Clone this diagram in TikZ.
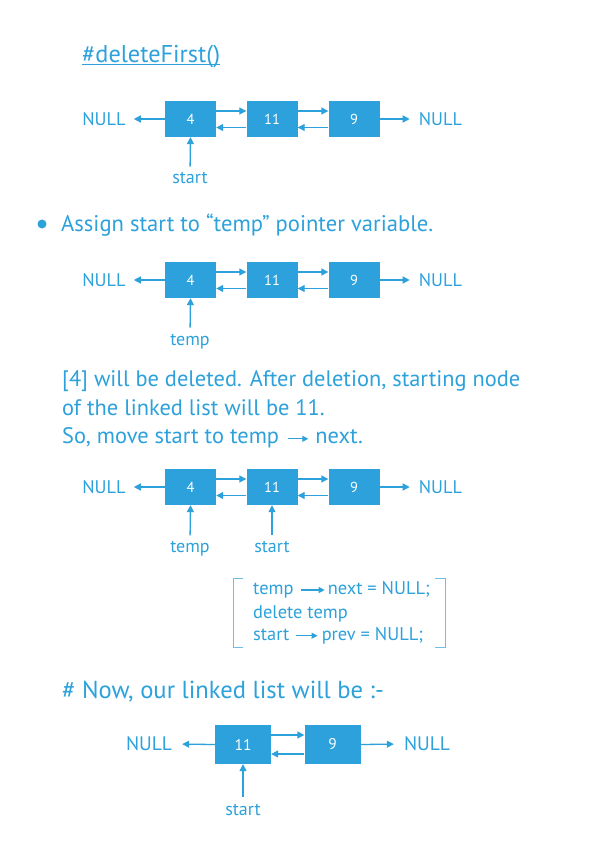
\documentclass[tikz,border=0pt]{standalone}
\usepackage{fontspec}
\setmainfont{PT Sans}
\usetikzlibrary{arrows.meta,positioning}
\definecolor{blu}{RGB}{44,161,219}
\definecolor{blul}{RGB}{110,190,232}
\begin{document}
\begin{tikzpicture}[x=1pt,y=-1pt,
  box/.style={fill=blu,minimum width=51pt,minimum height=36pt,inner sep=0,text=white,font=\fontsize{14.5}{14.5}\selectfont},
  bigbox/.style={box,minimum width=56pt,minimum height=39pt,font=\fontsize{15.5}{15.5}\selectfont},
  nul/.style={text=blu,inner sep=0,font=\fontsize{18.3}{18.3}\selectfont},
  bignul/.style={nul,font=\fontsize{19.5}{19.5}\selectfont},
  lbl/.style={text=blu,inner sep=0,anchor=base,font=\fontsize{18}{18}\selectfont},
  arr/.style={draw=blu,line width=1.3pt,-{Triangle[length=7pt,width=7pt]}},
  sarr/.style={draw=blu,line width=1.2pt,-{Triangle[length=6pt,width=6pt]}},
  txt/.style={text=blu,inner sep=0,anchor=base west,font=\fontsize{22.6}{22.6}\selectfont},
  code/.style={text=blu,inner sep=0,anchor=base west,font=\fontsize{18.4}{18.4}\selectfont},
  brk/.style={draw=blul,line width=1pt}]
\fill[white] (0,0) rectangle (595,850);
\useasboundingbox (0,0) rectangle (595,850);

% title
\node[txt,font=\fontsize{24.3}{24.3}\selectfont] (title) at (82,62.5) {\#deleteFirst()};
\draw[blu,line width=1pt] ([yshift=-2pt]title.base west) -- ([yshift=-2pt]title.base east);

% diagram 1
\node[box] (a4) at (190.5,119) {4};
\node[box] (a11) at (272,119) {11};
\node[box] (a9) at (354,119) {9};
\node[nul] (an1) at (104,119) {NULL};
\node[nul] (an2) at (440.5,119) {NULL};
\draw[arr,shorten >=8pt] (a4.west) -- (an1.east);
\draw[arr,shorten >=9pt] (a9.east) -- (an2.west);
\draw[arr] ([yshift=8pt]a4.east) -- ([yshift=8pt]a11.west);
\draw[arr] ([yshift=-8.5pt]a11.west) -- ([yshift=-8.5pt]a4.east);
\draw[arr] ([yshift=8pt]a11.east) -- ([yshift=8pt]a9.west);
\draw[arr] ([yshift=-8.5pt]a9.west) -- ([yshift=-8.5pt]a11.east);
\node[lbl] (as) at (190,184) {start};
\draw[arr,shorten <=6pt] (as.north) -- (a4.south);

% bullet text
\node[circle,fill=blu,minimum size=9pt,inner sep=0] (bul) at (42,224) {};
\node[txt] (t1) at (61,231.5) {Assign start to “temp” pointer variable.};

% diagram 2
\node[box] (b4) at (190.5,280) {4};
\node[box] (b11) at (272,280) {11};
\node[box] (b9) at (354,280) {9};
\node[nul] (bn1) at (104,280) {NULL};
\node[nul] (bn2) at (440.5,280) {NULL};
\draw[arr,shorten >=8pt] (b4.west) -- (bn1.east);
\draw[arr,shorten >=9pt] (b9.east) -- (bn2.west);
\draw[arr] ([yshift=8pt]b4.east) -- ([yshift=8pt]b11.west);
\draw[arr] ([yshift=-8.5pt]b11.west) -- ([yshift=-8.5pt]b4.east);
\draw[arr] ([yshift=8pt]b11.east) -- ([yshift=8pt]b9.west);
\draw[arr] ([yshift=-8.5pt]b9.west) -- ([yshift=-8.5pt]b11.east);
\node[lbl] (bt) at (190,345) {temp};
\draw[arr,shorten <=6pt] (bt.north) -- (b4.south);

% paragraph
\node[txt,font=\fontsize{22.4}{22.4}\selectfont] (p1) at (62,386.7) {[4] will be deleted. After deletion, starting node};
\node[txt,font=\fontsize{22.4}{22.4}\selectfont] (p2) at (62,415) {of the linked list will be 11.};
\node[txt,font=\fontsize{22.4}{22.4}\selectfont] (p3) at (62,443.3) {So, move start to temp};
\node[txt,font=\fontsize{22.4}{22.4}\selectfont] (p3b) at ([xshift=36pt]p3.base east) {next.};
\draw[sarr] ([xshift=9pt,yshift=4.5pt]p3.base east) -- ([xshift=-7pt,yshift=4.5pt]p3b.base west);

% diagram 3
\node[box] (c4) at (190.5,487) {4};
\node[box] (c11) at (272,487) {11};
\node[box] (c9) at (354,487) {9};
\node[nul] (cn1) at (104,487) {NULL};
\node[nul] (cn2) at (440.5,487) {NULL};
\draw[arr,shorten >=8pt] (c4.west) -- (cn1.east);
\draw[arr,shorten >=9pt] (c9.east) -- (cn2.west);
\draw[arr] ([yshift=8pt]c4.east) -- ([yshift=8pt]c11.west);
\draw[arr] ([yshift=-8.5pt]c11.west) -- ([yshift=-8.5pt]c4.east);
\draw[arr] ([yshift=8pt]c11.east) -- ([yshift=8pt]c9.west);
\draw[arr] ([yshift=-8.5pt]c9.west) -- ([yshift=-8.5pt]c11.east);
\node[lbl] (ct) at (190,552.7) {temp};
\node[lbl] (cs) at (272,552.7) {start};
\draw[arr,shorten <=6pt] (ct.north) -- (c4.south);
\draw[arr,shorten <=6pt] (cs.north) -- (c11.south);

% code block
\draw[brk] (243,578) -- (233,578) -- (233,647) -- (243,647);
\draw[brk] (435,578) -- (445,578) -- (445,647) -- (435,647);
\node[code] (k1) at (253,594.3) {temp};
\node[code] (k1b) at ([xshift=34pt]k1.base east) {next = NULL;};
\draw[sarr] ([xshift=7pt,yshift=4.3pt]k1.base east) -- ([xshift=-3pt,yshift=4.3pt]k1b.base west);
\node[code] (k2) at (253,618.3) {delete temp};
\node[code] (k3) at (253,640) {start};
\node[code] (k3b) at ([xshift=32pt]k3.base east) {prev = NULL;};
\draw[sarr] ([xshift=6pt,yshift=4.3pt]k3.base east) -- ([xshift=-4pt,yshift=4.3pt]k3b.base west);

% now
\node[txt,font=\fontsize{24.6}{24.6}\selectfont] (now) at (62,698.3) {\# Now, our linked list will be :-};

% diagram 4
\node[bigbox] (d11) at (243,744.5) {11};
\node[bigbox] (d9) at (332.5,744.5) {9};
\node[bignul] (dn1) at (149,744) {NULL};
\node[bignul] (dn2) at (427,744) {NULL};
\draw[arr,shorten >=10pt] (d11.west) -- (dn1.east);
\draw[arr,shorten >=10pt] (d9.east) -- (dn2.west);
\draw[arr] ([yshift=9.5pt]d11.east) -- ([yshift=9.5pt]d9.west);
\draw[arr] ([yshift=-9.5pt]d9.west) -- ([yshift=-9.5pt]d11.east);
\node[lbl] (ds) at (243,815) {start};
\draw[arr,shorten <=7pt] (ds.north) -- (d11.south);
\end{tikzpicture}
\end{document}
